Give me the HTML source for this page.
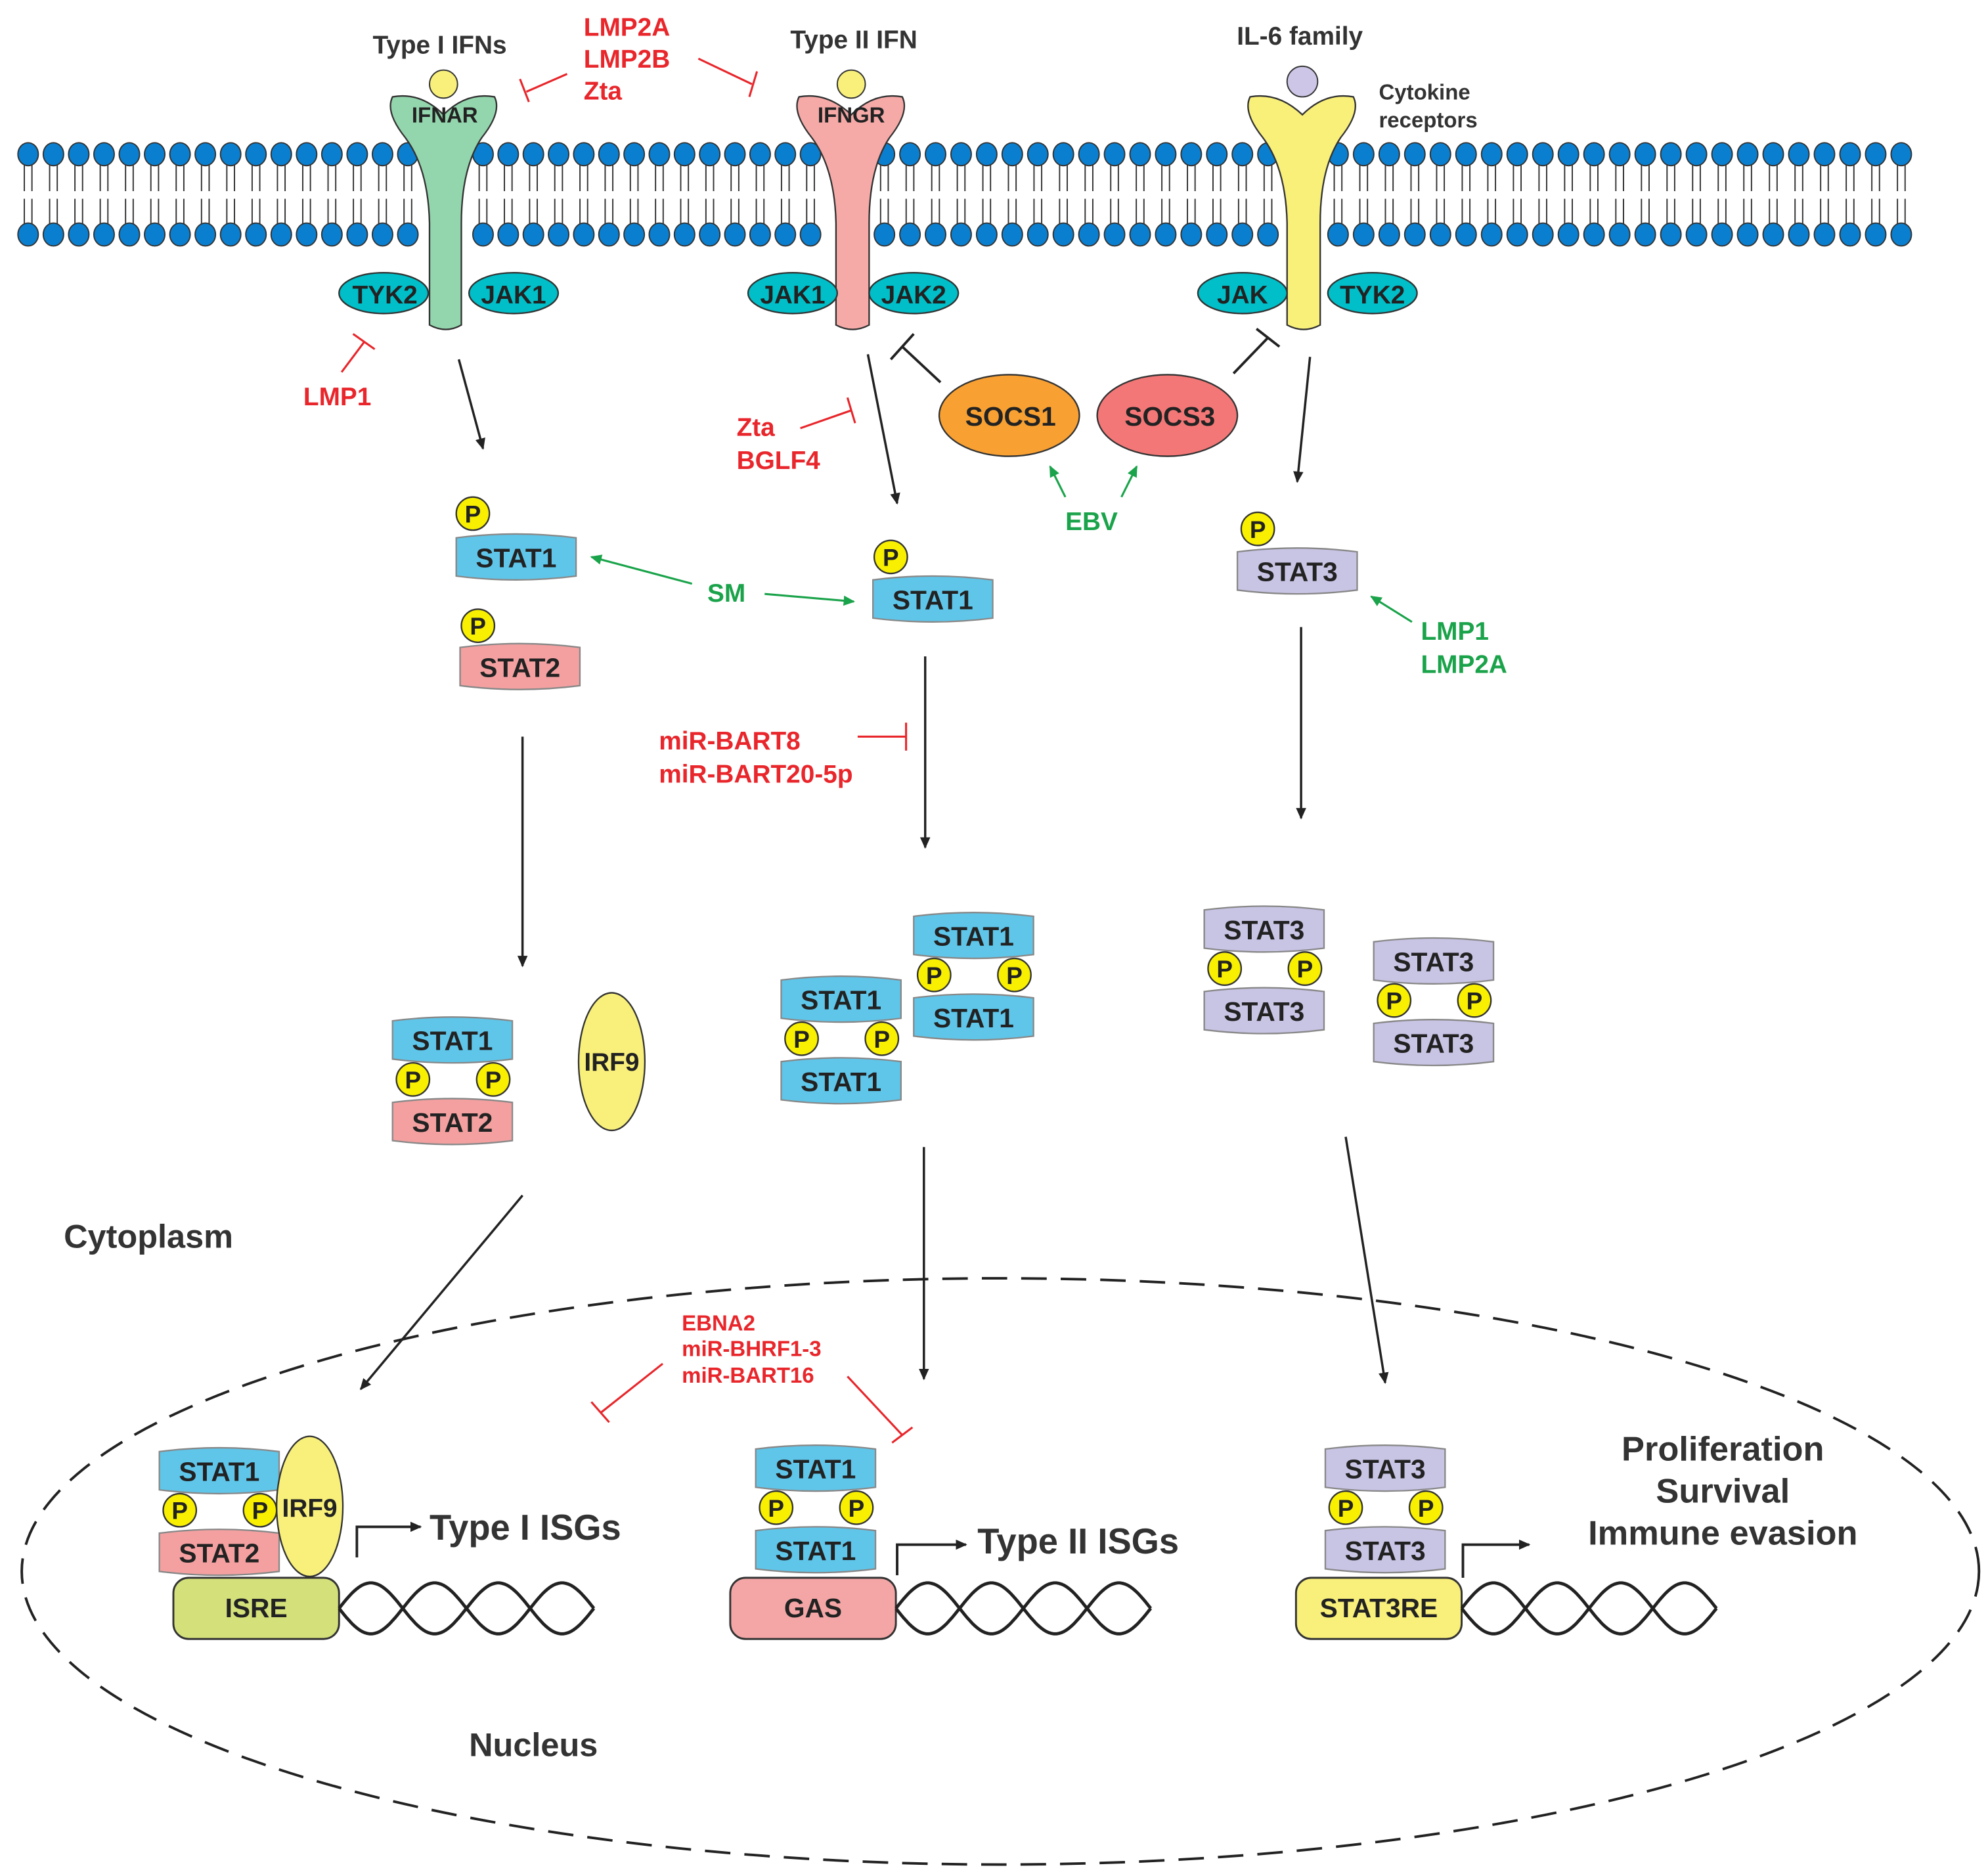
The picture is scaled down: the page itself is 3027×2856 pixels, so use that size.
<!DOCTYPE html>
<html><head><meta charset="utf-8"><style>
html,body{margin:0;padding:0;background:#fff}
svg{display:block}
text{font-family:"Liberation Sans",Arial,sans-serif;font-weight:bold}
</style></head><body>
<svg id="s" width="3027" height="2856" viewBox="0 0 1560 1472" xmlns="http://www.w3.org/2000/svg">
<defs>
<marker id="a" markerWidth="10" markerHeight="10" refX="8" refY="5" orient="auto" markerUnits="userSpaceOnUse"><path d="M0,1 L9,5 L0,9 Z" fill="#222"/></marker>
<marker id="ag" markerWidth="10" markerHeight="10" refX="8" refY="5" orient="auto" markerUnits="userSpaceOnUse"><path d="M0,1 L9,5 L0,9 Z" fill="#1aa34a"/></marker>
</defs>
<g id="mem"></g>

<!-- receptors -->
<path d="M337,255 L337,175 Q336,132 318,108 Q302,88 308,76 Q330,72 348,90 Q366,72 388,76 Q394,88 378,108 Q362,132 362,175 L362,255 Q350,262 337,255 Z" fill="#93d6ad" stroke="#333" stroke-width="1.2"/>
<circle cx="348" cy="66" r="11" fill="#f8f07a" stroke="#333"/>
<text x="349" y="96" font-size="17" text-anchor="middle" fill="#222">IFNAR</text>
<path d="M656,255 L656,175 Q655,132 637,108 Q621,88 627,76 Q649,72 668,90 Q686,72 708,76 Q714,88 698,108 Q682,132 682,175 L682,255 Q669,262 656,255 Z" fill="#f6aaa8" stroke="#333" stroke-width="1.2"/>
<circle cx="668" cy="66" r="11" fill="#f8f07a" stroke="#333"/>
<text x="668" y="96" font-size="17" text-anchor="middle" fill="#222">IFNGR</text>
<path d="M1010,255 L1010,175 Q1009,132 991,108 Q975,88 981,76 Q1003,72 1022,90 Q1040,72 1062,76 Q1068,88 1052,108 Q1036,132 1036,175 L1036,255 Q1023,262 1010,255 Z" fill="#f9f07a" stroke="#333" stroke-width="1.2"/>
<circle cx="1022" cy="64" r="12" fill="#cdc6e6" stroke="#333"/>

<!-- JAKs -->
<g stroke="#333" stroke-width="1.2" fill="#00bfc8">
<ellipse cx="301" cy="230" rx="35" ry="16"/><ellipse cx="403" cy="230" rx="35" ry="16"/>
<ellipse cx="622" cy="230" rx="35" ry="16"/><ellipse cx="717" cy="230" rx="35" ry="16"/>
<ellipse cx="975" cy="230" rx="35" ry="16"/><ellipse cx="1077" cy="230" rx="35" ry="16"/>
</g>
<g font-size="20" fill="#222" text-anchor="middle">
<text x="302" y="238">TYK2</text><text x="403" y="238">JAK1</text>
<text x="622" y="238">JAK1</text><text x="717" y="238">JAK2</text>
<text x="975" y="238">JAK</text><text x="1077" y="238">TYK2</text>
</g>

<!-- top labels -->
<g font-size="20" fill="#333" text-anchor="middle">
<text x="345" y="42">Type I IFNs</text><text x="670" y="38">Type II IFN</text><text x="1020" y="35">IL-6 family</text>
</g>
<text x="1082" y="78" font-size="17" fill="#333">Cytokine</text>
<text x="1082" y="100" font-size="17" fill="#333">receptors</text>
<g font-size="20" fill="#e8262b">
<text x="458" y="28">LMP2A</text><text x="458" y="53">LMP2B</text><text x="458" y="78">Zta</text>
<text x="238" y="318">LMP1</text>
<text x="578" y="342">Zta</text><text x="578" y="368">BGLF4</text>
<text x="517" y="588">miR-BART8</text><text x="517" y="614">miR-BART20-5p</text>
</g>
<g font-size="17" fill="#e8262b">
<text x="535" y="1044">EBNA2</text><text x="535" y="1064">miR-BHRF1-3</text><text x="535" y="1085">miR-BART16</text>
</g>
<g stroke="#e8262b" stroke-width="1.6" fill="none">
<path d="M445,58 L413,72 M408,62 L415,80"/>
<path d="M548,46 L590,66 M594,56 L588,76"/>
<path d="M268,292 L286,268 M277,262 L294,274"/>
<path d="M628,336 L668,322 M665,312 L671,332"/>
<path d="M673,578 L711,578 M711,567 L711,589"/>
<path d="M520,1070 L472,1108 M464,1100 L478,1116"/>
<path d="M665,1080 L708,1126 M700,1132 L716,1120"/>
</g>

<!-- SOCS -->
<ellipse cx="792" cy="326" rx="55" ry="32" fill="#f8a032" stroke="#333" stroke-width="1.2"/>
<ellipse cx="916" cy="326" rx="55" ry="32" fill="#f47777" stroke="#333" stroke-width="1.2"/>
<text x="793" y="334" font-size="21" fill="#222" text-anchor="middle">SOCS1</text>
<text x="918" y="334" font-size="21" fill="#222" text-anchor="middle">SOCS3</text>
<g stroke="#222" stroke-width="2" fill="none">
<path d="M738,300 L708,272 M699,282 L717,262"/>
<path d="M968,293 L995,265 M986,258 L1004,272"/>
</g>

<!-- green -->
<g font-size="20" fill="#1aa34a">
<text x="836" y="416">EBV</text><text x="555" y="472">SM</text>
<text x="1115" y="502">LMP1</text><text x="1115" y="528">LMP2A</text>
</g>
<g stroke="#1aa34a" stroke-width="1.6" marker-end="url(#ag)">
<line x1="836" y1="390" x2="824" y2="366"/><line x1="880" y1="390" x2="892" y2="366"/>
<line x1="543" y1="458" x2="464" y2="437"/><line x1="600" y1="466" x2="670" y2="472"/>
<line x1="1108" y1="488" x2="1076" y2="468"/>
</g>

<!-- black arrows -->
<g stroke="#222" stroke-width="1.8" marker-end="url(#a)">
<line x1="360" y1="282" x2="379" y2="352"/>
<line x1="681" y1="278" x2="704" y2="395"/>
<line x1="1028" y1="280" x2="1018" y2="378"/>
<line x1="410" y1="578" x2="410" y2="758"/>
<line x1="726" y1="515" x2="726" y2="665"/>
<line x1="1021" y1="492" x2="1021" y2="642"/>
<line x1="410" y1="938" x2="283" y2="1090"/>
<line x1="725" y1="900" x2="725" y2="1082"/>
<line x1="1056" y1="892" x2="1087" y2="1085"/>
</g>

<g id="pills"></g>

<ellipse cx="480" cy="833" rx="26" ry="54" fill="#f8f07a" stroke="#333" stroke-width="1.2"/>
<text x="480" y="840" font-size="20" fill="#222" text-anchor="middle">IRF9</text>

<text x="50" y="979" font-size="26" fill="#333">Cytoplasm</text>
<text x="368" y="1378" font-size="26" fill="#333">Nucleus</text>

<ellipse cx="785" cy="1233" rx="768" ry="230" fill="none" stroke="#222" stroke-width="2" stroke-dasharray="20,11"/>

<!-- nuclear elements -->
<g stroke="#333" stroke-width="1.5">
<rect x="136" y="1238" width="130" height="48" rx="12" fill="#d4e07a"/>
<rect x="573" y="1238" width="130" height="48" rx="12" fill="#f4a6a6"/>
<rect x="1017" y="1238" width="130" height="48" rx="12" fill="#f8f07a"/>
</g>
<g font-size="21" fill="#222" text-anchor="middle">
<text x="201" y="1269">ISRE</text><text x="638" y="1269">GAS</text><text x="1082" y="1269">STAT3RE</text>
</g>
<ellipse cx="243" cy="1182" rx="26" ry="55" fill="#f8f07a" stroke="#333" stroke-width="1.2"/>
<text x="243" y="1190" font-size="20" fill="#222" text-anchor="middle">IRF9</text>
<g id="helix" fill="none" stroke="#222" stroke-width="2.5"></g>
<g stroke="#222" stroke-width="2" fill="none" marker-end="url(#a)">
<path d="M280,1222 L280,1198 L330,1198"/>
<path d="M704,1236 L704,1212 L758,1212"/>
<path d="M1148,1238 L1148,1212 L1200,1212"/>
</g>
<g font-size="28" fill="#333">
<text x="337" y="1208">Type I ISGs</text><text x="767" y="1219">Type II ISGs</text>
</g>
<g font-size="27" fill="#333" text-anchor="middle">
<text x="1352" y="1146">Proliferation</text><text x="1352" y="1179">Survival</text><text x="1352" y="1212">Immune evasion</text>
</g>
</svg>
<script>
var NS="http://www.w3.org/2000/svg";
function el(p,t,a,txt){var e=document.createElementNS(NS,t);for(var k in a)e.setAttribute(k,a[k]);if(txt)e.textContent=txt;p.appendChild(e);return e;}
var mem=document.getElementById('mem');
var segs=[[22,320,16],[379,636,14],[694,995,16],[1050,1492,23]];
segs.forEach(function(s){
 var n=s[2],st=(s[1]-s[0])/(n-1);
 for(var i=0;i<n;i++){var x=s[0]+i*st;
 el(mem,'path',{d:'M'+(x-3)+',128 L'+(x-3)+',150 M'+(x+3)+',128 L'+(x+3)+',150 M'+(x-3)+',156 L'+(x-3)+',177 M'+(x+3)+',156 L'+(x+3)+',177',stroke:'#333','stroke-width':1,fill:'none'});
 el(mem,'ellipse',{cx:x,cy:121,rx:8,ry:9,fill:'#0a7fd0',stroke:'#333','stroke-width':1});
 el(mem,'ellipse',{cx:x,cy:184,rx:8,ry:9,fill:'#0a7fd0',stroke:'#333','stroke-width':1});
 }
});
var pills=document.getElementById('pills');
var col={STAT1:'#5fc6ea',STAT2:'#f4a0a0',STAT3:'#c8c4e4'};
function pill(cx,cy,n){
 el(pills,'path',{d:'M'+(cx-47)+','+(cy-15)+' Q'+cx+','+(cy-21)+' '+(cx+47)+','+(cy-15)+' L'+(cx+47)+','+(cy+15)+' Q'+cx+','+(cy+21)+' '+(cx-47)+','+(cy+15)+' Z',fill:col[n],stroke:'#888','stroke-width':1.2});
 el(pills,'text',{x:cx,y:cy+8,'font-size':21,fill:'#222','text-anchor':'middle'},n);
}
function P(cx,cy){el(pills,'circle',{cx:cx,cy:cy,r:13,fill:'#f8f000',stroke:'#333','stroke-width':1.2});el(pills,'text',{x:cx,y:cy+7,'font-size':19,fill:'#222','text-anchor':'middle','font-weight':'normal'},'P');}
function dimer(cx,ty,a,b){pill(cx,ty,a);P(cx-31,ty+31);P(cx+32,ty+31);pill(cx,ty+64,b);}
pill(405,437,'STAT1');P(371,403);
pill(408,523,'STAT2');P(375,491);
pill(732,470,'STAT1');P(699,437);
pill(1018,448,'STAT3');P(987,415);
dimer(355,816,'STAT1','STAT2');
dimer(660,784,'STAT1','STAT1');
dimer(764,734,'STAT1','STAT1');
dimer(992,729,'STAT3','STAT3');
dimer(1125,754,'STAT3','STAT3');
dimer(172,1154,'STAT1','STAT2');
dimer(640,1152,'STAT1','STAT1');
dimer(1087,1152,'STAT3','STAT3');
var h=document.getElementById('helix');
[266,703,1147].forEach(function(x0){
 for(var s=0;s<2;s++){var d='';for(var i=0;i<=200;i+=2){var y=1262+(s?-1:1)*20*Math.sin(i/200*4*Math.PI);d+=(i?'L':'M')+(x0+i)+','+y.toFixed(1);}el(h,'path',{d:d});}
});
</script>
</body></html>
